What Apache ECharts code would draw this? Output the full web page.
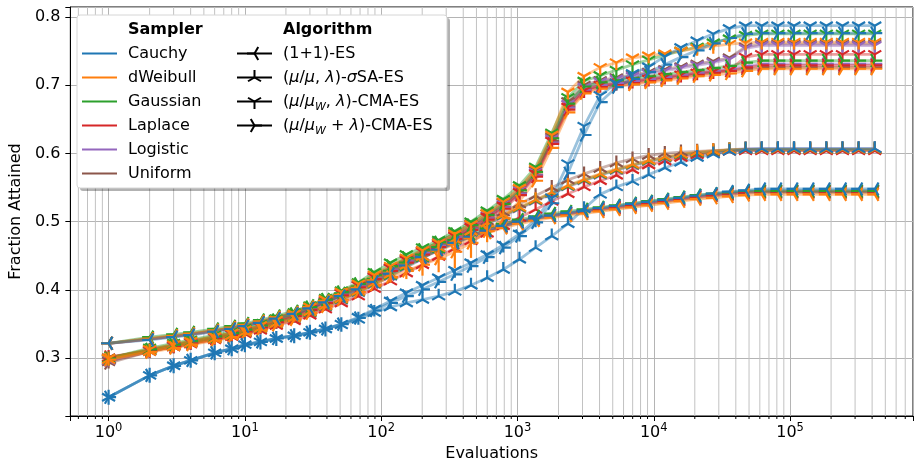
<!DOCTYPE html>
<html>
<head>
<meta charset="utf-8">
<script src="https://cdn.jsdelivr.net/npm/echarts@6/dist/echarts.min.js"></script>
<style>
  html, body { margin: 0; padding: 0; background: #fff; }
  #chart { width: 916px; height: 468px; }
</style>
</head>
<body>
<div id="chart"></div>
<script>
// evaluations at which the fraction attained was recorded
var evals = [1, 2, 3, 4, 6, 8, 10, 13, 17, 23, 30, 39, 51, 68, 89, 117, 153, 201, 264, 347, 456, 599, 787,
  1034, 1358, 1784, 2344, 3080, 4046, 5315, 6982, 9173, 12050, 15830, 20800, 27330, 35890, 47160, 61940,
  81380, 106900, 140400, 184500, 242400, 318400, 418300];

var samplers = ['Cauchy', 'dWeibull', 'Gaussian', 'Laplace', 'Logistic', 'Uniform'];
var samplerColors = ['#1f77b4', '#ff7f0e', '#2ca02c', '#d62728', '#9467bd', '#8c564b'];

var algorithms = [
  '(1+1)-ES',
  '({i|μ}/{i|μ}, {i|λ})-{i|σ}SA-ES',
  '({i|μ}/{i|μ}{s|W}, {i|λ})-CMA-ES',
  '({i|μ}/{i|μ}{s|W} + {i|λ})-CMA-ES'
];

// rows follow the samplers order
var onePlusOne = [
  [0.322,0.327,0.331,0.334,0.339,0.343,0.347,0.352,0.358,0.365,0.373,0.382,0.391,0.401,0.412,0.424,0.436,0.448,0.459,0.469,0.478,0.487,0.494,0.500,0.505,0.509,0.513,0.516,0.520,0.523,0.526,0.529,0.532,0.535,0.538,0.541,0.544,0.546,0.548,0.548,0.548,0.548,0.548,0.548,0.548,0.548],
  [0.322,0.329,0.333,0.336,0.341,0.345,0.349,0.354,0.360,0.367,0.375,0.384,0.393,0.403,0.414,0.425,0.437,0.448,0.458,0.467,0.476,0.484,0.491,0.497,0.502,0.506,0.509,0.512,0.515,0.518,0.521,0.524,0.527,0.530,0.533,0.535,0.537,0.539,0.540,0.540,0.540,0.540,0.540,0.540,0.540,0.540],
  [0.322,0.331,0.335,0.338,0.343,0.347,0.351,0.356,0.362,0.369,0.377,0.386,0.395,0.405,0.416,0.428,0.440,0.452,0.463,0.473,0.482,0.490,0.497,0.503,0.508,0.512,0.515,0.518,0.521,0.524,0.527,0.530,0.533,0.536,0.539,0.541,0.543,0.545,0.545,0.545,0.545,0.545,0.545,0.545,0.545,0.545],
  [0.322,0.328,0.332,0.335,0.340,0.344,0.348,0.353,0.359,0.366,0.374,0.383,0.392,0.402,0.413,0.425,0.437,0.449,0.460,0.470,0.479,0.487,0.494,0.500,0.505,0.509,0.512,0.515,0.518,0.521,0.524,0.527,0.530,0.533,0.536,0.539,0.541,0.543,0.544,0.544,0.544,0.544,0.544,0.544,0.544,0.544],
  [0.322,0.329,0.333,0.336,0.341,0.345,0.349,0.354,0.360,0.367,0.375,0.384,0.393,0.403,0.414,0.426,0.438,0.450,0.461,0.471,0.480,0.488,0.495,0.501,0.506,0.510,0.513,0.516,0.519,0.522,0.525,0.528,0.531,0.534,0.537,0.540,0.542,0.544,0.545,0.545,0.545,0.545,0.545,0.545,0.545,0.545],
  [0.322,0.328,0.332,0.335,0.340,0.344,0.348,0.353,0.359,0.366,0.374,0.383,0.392,0.402,0.413,0.424,0.436,0.448,0.459,0.469,0.478,0.486,0.493,0.499,0.504,0.508,0.511,0.514,0.517,0.520,0.523,0.526,0.529,0.532,0.535,0.538,0.540,0.542,0.543,0.543,0.543,0.543,0.543,0.543,0.543,0.543]
];

var sigmaSA = [
  [0.243,0.275,0.289,0.297,0.308,0.314,0.320,0.324,0.329,0.333,0.338,0.343,0.349,0.357,0.367,0.375,0.381,0.386,0.391,0.398,0.407,0.418,0.430,0.445,0.462,0.479,0.497,0.519,0.540,0.551,0.559,0.569,0.579,0.587,0.594,0.599,0.603,0.606,0.607,0.607,0.607,0.607,0.607,0.607,0.607,0.607],
  [0.298,0.310,0.317,0.322,0.328,0.333,0.338,0.344,0.351,0.359,0.368,0.377,0.387,0.398,0.410,0.423,0.436,0.449,0.462,0.474,0.486,0.498,0.510,0.521,0.532,0.543,0.553,0.562,0.570,0.577,0.584,0.590,0.595,0.599,0.602,0.604,0.605,0.606,0.606,0.606,0.606,0.606,0.606,0.606,0.606,0.606],
  [0.299,0.311,0.318,0.323,0.329,0.334,0.338,0.344,0.351,0.359,0.367,0.376,0.386,0.397,0.409,0.421,0.434,0.447,0.460,0.473,0.485,0.497,0.509,0.520,0.531,0.542,0.552,0.561,0.569,0.576,0.583,0.589,0.594,0.598,0.601,0.603,0.605,0.606,0.606,0.606,0.606,0.606,0.606,0.606,0.606,0.606],
  [0.301,0.311,0.317,0.321,0.327,0.332,0.336,0.341,0.348,0.355,0.363,0.372,0.381,0.391,0.402,0.413,0.425,0.437,0.449,0.461,0.472,0.483,0.494,0.506,0.518,0.530,0.541,0.551,0.560,0.568,0.576,0.583,0.589,0.594,0.598,0.601,0.603,0.604,0.604,0.604,0.604,0.604,0.604,0.604,0.604,0.604],
  [0.297,0.310,0.317,0.322,0.328,0.333,0.337,0.343,0.350,0.358,0.366,0.375,0.385,0.396,0.408,0.420,0.433,0.446,0.459,0.472,0.484,0.496,0.508,0.519,0.530,0.541,0.551,0.560,0.568,0.575,0.582,0.588,0.593,0.597,0.600,0.603,0.605,0.607,0.607,0.607,0.607,0.607,0.607,0.607,0.607,0.607],
  [0.295,0.310,0.317,0.322,0.328,0.333,0.338,0.344,0.351,0.359,0.368,0.377,0.387,0.398,0.410,0.423,0.436,0.449,0.462,0.475,0.488,0.501,0.514,0.526,0.538,0.550,0.561,0.570,0.578,0.586,0.592,0.597,0.600,0.602,0.603,0.604,0.605,0.605,0.605,0.605,0.605,0.605,0.605,0.605,0.605,0.605]
];

var cmaComma = [
  [0.243,0.275,0.289,0.297,0.308,0.314,0.320,0.324,0.329,0.333,0.338,0.343,0.350,0.360,0.372,0.384,0.396,0.407,0.418,0.429,0.440,0.452,0.466,0.482,0.503,0.535,0.585,0.640,0.685,0.703,0.717,0.727,0.742,0.755,0.765,0.775,0.783,0.787,0.787,0.787,0.787,0.787,0.787,0.787,0.787,0.787],
  [0.300,0.313,0.320,0.325,0.332,0.337,0.342,0.348,0.356,0.365,0.375,0.386,0.397,0.409,0.422,0.435,0.447,0.458,0.469,0.482,0.496,0.512,0.529,0.549,0.577,0.627,0.690,0.713,0.726,0.733,0.740,0.743,0.746,0.750,0.754,0.757,0.760,0.762,0.763,0.763,0.763,0.763,0.763,0.763,0.763,0.763],
  [0.300,0.315,0.322,0.327,0.334,0.339,0.344,0.350,0.358,0.367,0.377,0.388,0.399,0.411,0.426,0.440,0.452,0.462,0.473,0.486,0.500,0.516,0.533,0.553,0.580,0.630,0.682,0.706,0.714,0.722,0.730,0.737,0.744,0.750,0.756,0.762,0.768,0.773,0.775,0.775,0.775,0.775,0.775,0.775,0.775,0.775],
  [0.301,0.312,0.319,0.324,0.331,0.336,0.341,0.347,0.355,0.364,0.373,0.384,0.395,0.407,0.419,0.432,0.444,0.456,0.467,0.479,0.492,0.507,0.523,0.543,0.570,0.618,0.668,0.692,0.700,0.703,0.706,0.709,0.712,0.715,0.718,0.720,0.722,0.741,0.745,0.745,0.745,0.745,0.745,0.745,0.745,0.745],
  [0.299,0.312,0.319,0.324,0.331,0.336,0.341,0.347,0.355,0.364,0.374,0.385,0.396,0.408,0.420,0.433,0.445,0.457,0.468,0.480,0.494,0.509,0.525,0.545,0.572,0.621,0.672,0.697,0.705,0.709,0.713,0.717,0.721,0.725,0.729,0.733,0.738,0.754,0.758,0.758,0.758,0.758,0.758,0.758,0.758,0.758],
  [0.296,0.311,0.318,0.323,0.330,0.335,0.340,0.346,0.354,0.363,0.373,0.384,0.395,0.407,0.420,0.433,0.446,0.458,0.470,0.483,0.497,0.512,0.528,0.548,0.575,0.624,0.676,0.700,0.707,0.711,0.715,0.719,0.723,0.727,0.731,0.735,0.740,0.756,0.760,0.760,0.760,0.760,0.760,0.760,0.760,0.760]
];

var cmaPlus = [
  [0.243,0.275,0.289,0.297,0.308,0.314,0.320,0.324,0.329,0.333,0.338,0.343,0.350,0.359,0.370,0.381,0.391,0.401,0.412,0.423,0.435,0.448,0.462,0.479,0.499,0.527,0.571,0.627,0.675,0.697,0.709,0.719,0.730,0.741,0.751,0.761,0.769,0.775,0.776,0.776,0.776,0.776,0.776,0.776,0.776,0.776],
  [0.298,0.309,0.315,0.320,0.326,0.331,0.336,0.342,0.349,0.357,0.366,0.376,0.386,0.397,0.408,0.419,0.428,0.437,0.446,0.456,0.469,0.486,0.505,0.530,0.560,0.608,0.660,0.688,0.695,0.698,0.701,0.704,0.707,0.710,0.713,0.715,0.717,0.721,0.724,0.724,0.724,0.724,0.724,0.724,0.724,0.724],
  [0.300,0.313,0.320,0.325,0.332,0.337,0.342,0.348,0.356,0.365,0.375,0.386,0.397,0.409,0.422,0.435,0.447,0.459,0.470,0.482,0.495,0.510,0.526,0.546,0.573,0.622,0.673,0.698,0.704,0.707,0.710,0.713,0.716,0.719,0.722,0.725,0.728,0.733,0.736,0.736,0.736,0.736,0.736,0.736,0.736,0.736],
  [0.302,0.311,0.317,0.322,0.329,0.334,0.339,0.345,0.353,0.362,0.371,0.381,0.392,0.404,0.416,0.428,0.440,0.452,0.463,0.475,0.488,0.503,0.519,0.539,0.566,0.614,0.664,0.690,0.697,0.700,0.703,0.706,0.709,0.712,0.715,0.718,0.721,0.726,0.729,0.729,0.729,0.729,0.729,0.729,0.729,0.729],
  [0.297,0.310,0.317,0.322,0.329,0.334,0.339,0.345,0.353,0.362,0.372,0.382,0.393,0.405,0.417,0.430,0.442,0.454,0.465,0.477,0.490,0.505,0.521,0.541,0.568,0.616,0.667,0.693,0.700,0.703,0.706,0.709,0.712,0.715,0.718,0.721,0.724,0.728,0.731,0.731,0.731,0.731,0.731,0.731,0.731,0.731],
  [0.293,0.310,0.317,0.322,0.329,0.334,0.339,0.345,0.353,0.362,0.372,0.382,0.393,0.405,0.417,0.430,0.442,0.454,0.466,0.478,0.491,0.506,0.522,0.542,0.569,0.618,0.669,0.694,0.699,0.702,0.705,0.708,0.711,0.714,0.717,0.719,0.721,0.724,0.726,0.726,0.726,0.726,0.726,0.726,0.726,0.726]
];

// spread (half height of the error bar) of dWeibull with the plus CMA-ES, where it is visible
var dWeibullPlusEvals = [117, 153, 201, 264, 347, 456, 599];
var dWeibullPlusSpread = [0.008, 0.012, 0.016, 0.020, 0.024, 0.022, 0.016];

// minor log ticks (2..9 x 10^k) shown as grid lines
var minorTicks = [0.6, 0.7, 0.8, 0.9,
  2, 3, 4, 5, 6, 7, 8, 9,
  20, 30, 40, 50, 60, 70, 80, 90,
  200, 300, 400, 500, 600, 700, 800, 900,
  2000, 3000, 4000, 5000, 6000, 7000, 8000, 9000,
  20000, 30000, 40000, 50000, 60000, 70000, 80000, 90000,
  200000, 300000, 400000, 500000, 600000, 700000];

var algoData = [onePlusOne, sigmaSA, cmaComma, cmaPlus];

var xMin = 0.524, xMax = 7.98e5;
var yMin = 0.2155, yMax = 0.8144;
var font = 'DejaVu Sans';

// tri markers: prong directions (screen coords, y down)
var prongs = [
  [[-1, 0], [0.5, -0.866], [0.5, 0.866]],     // tri_left
  [[0, -1], [-0.866, 0.5], [0.866, 0.5]],     // tri_up
  [[0, 1], [-0.866, -0.5], [0.866, -0.5]],    // tri_down
  [[1, 0], [-0.5, -0.866], [-0.5, 0.866]]     // tri_right
];
var triSymbols = prongs.map(function (p) {
  var d = p.map(function (v) { return 'M0,0L' + v[0] + ',' + v[1]; }).join('');
  // zero-length corners keep the marker centred in its box
  return 'path://' + d + 'M-1,-1L-1,-1M1,1L1,1';
});

var series = [];

series.push({
  type: 'custom',
  coordinateSystem: 'cartesian2d',
  silent: true,
  clip: false,
  z: 1,
  animation: false,
  data: minorTicks.map(function (v) { return [v, yMin]; }),
  renderItem: function (params, api) {
    var b = api.coord([api.value(0), yMin]);
    var t = api.coord([api.value(0), yMax]);
    return {
      type: 'group',
      children: [
        { type: 'line', shape: { x1: b[0], y1: t[1], x2: b[0], y2: b[1] }, style: { stroke: '#c2c2c2', lineWidth: 1 } },
        { type: 'line', shape: { x1: b[0], y1: b[1], x2: b[0], y2: b[1] + 3 }, style: { stroke: '#000', lineWidth: 1 } }
      ]
    };
  }
});

var drawOrder = [5, 4, 3, 2, 1, 0];
drawOrder.forEach(function (si) {
  algoData.forEach(function (rows, ai) {
    series.push({
      type: 'line',
      name: samplers[si] + '-' + ai,
      data: evals.map(function (x, i) { return [x, rows[si][i]]; }),
      symbol: triSymbols[ai],
      symbolSize: 15,
      showAllSymbol: true,
      silent: true,
      z: 2,
      lineStyle: { color: samplerColors[si], width: 2.8, opacity: 0.45 },
      itemStyle: { color: 'rgba(0,0,0,0)', borderColor: samplerColors[si], borderWidth: 2.2 },
      emphasis: { disabled: true },
      animation: false
    });
  });
});

// error bars of the dWeibull plus CMA-ES
series.push({
  type: 'custom',
  coordinateSystem: 'cartesian2d',
  silent: true,
  z: 3,
  animation: false,
  data: dWeibullPlusEvals.map(function (x, i) {
    return [x, cmaPlus[1][evals.indexOf(x)], dWeibullPlusSpread[i]];
  }),
  renderItem: function (params, api) {
    var x = api.value(0), v = api.value(1), e = api.value(2);
    var lo = api.coord([x, v - e]), hi = api.coord([x, v + e]);
    return { type: 'line', shape: { x1: lo[0], y1: lo[1], x2: hi[0], y2: hi[1] }, style: { stroke: samplerColors[1], lineWidth: 2.2 } };
  }
});

// legend drawn by hand: two titled columns
var graphics = [];
var lx = 77, ly = 15, lw = 370, lh = 173;
graphics.push({ type: 'rect', z: 100, silent: true, shape: { x: lx + 3, y: ly + 3, width: lw, height: lh, r: 3 }, style: { fill: 'rgba(0,0,0,0.3)' } });
graphics.push({ type: 'rect', z: 101, silent: true, shape: { x: lx, y: ly, width: lw, height: lh, r: 3 }, style: { fill: '#fff', stroke: '#d6d6d6', lineWidth: 1 } });
graphics.push({ type: 'text', z: 102, x: 128, y: 29.5, style: { text: 'Sampler', fontFamily: font, fontSize: 16, fontWeight: 'bold', fill: '#000', verticalAlign: 'middle' } });
graphics.push({ type: 'text', z: 102, x: 283, y: 29.5, style: { text: 'Algorithm', fontFamily: font, fontSize: 16, fontWeight: 'bold', fill: '#000', verticalAlign: 'middle' } });
samplers.forEach(function (s, i) {
  var yy = 53.5 + 24 * i;
  graphics.push({ type: 'line', z: 102, shape: { x1: 82, y1: yy, x2: 117, y2: yy }, style: { stroke: samplerColors[i], lineWidth: 2 } });
  graphics.push({ type: 'text', z: 102, x: 128, y: yy, style: { text: s, fontFamily: font, fontSize: 16, fill: '#000', verticalAlign: 'middle' } });
});
algorithms.forEach(function (a, i) {
  var yy = 53.5 + 24 * i;
  var cx = 254.5;
  graphics.push({ type: 'line', z: 102, shape: { x1: 237, y1: yy, x2: 272, y2: yy }, style: { stroke: '#000', lineWidth: 2 } });
  prongs[i].forEach(function (v) {
    graphics.push({ type: 'line', z: 102, shape: { x1: cx, y1: yy, x2: cx + 7.5 * v[0], y2: yy + 7.5 * v[1] }, style: { stroke: '#000', lineWidth: 2 } });
  });
  graphics.push({
    type: 'text', z: 102, x: 283, y: yy,
    style: {
      text: a, fontFamily: font, fontSize: 16, fill: '#000', verticalAlign: 'middle', lineHeight: 22,
      rich: {
        i: { fontFamily: font, fontSize: 16, fontStyle: 'italic', lineHeight: 22 },
        s: { fontFamily: font, fontSize: 11, fontStyle: 'italic', verticalAlign: 'bottom', lineHeight: 12 }
      }
    }
  });
});

var chart = echarts.init(document.getElementById('chart'));
chart.setOption({
  animation: false,
  backgroundColor: '#fff',
  textStyle: { fontFamily: font },
  grid: { left: 67, right: -8, top: 7, bottom: 52, show: true, borderColor: '#000', borderWidth: 1, backgroundColor: 'transparent' },
  xAxis: {
    type: 'log',
    logBase: 10,
    min: xMin,
    max: xMax,
    name: 'Evaluations',
    nameLocation: 'middle',
    nameGap: 29,
    nameTextStyle: { fontSize: 16, color: '#000', fontFamily: font },
    axisLine: { show: true, lineStyle: { color: '#000', width: 1 } },
    axisTick: { show: true, length: 5, lineStyle: { color: '#000', width: 1 } },
    axisLabel: {
      color: '#000', margin: 6, fontFamily: font,
      formatter: function (v) {
        var e = Math.log10(v), k = Math.round(e);
        if (Math.abs(e - k) > 1e-6) return '';
        return '{b|10}{s|' + k + '}';
      },
      rich: {
        b: { fontSize: 16, fontFamily: font, color: '#000', lineHeight: 22 },
        s: { fontSize: 11.5, fontFamily: font, color: '#000', verticalAlign: 'top', lineHeight: 12 }
      }
    },
    splitLine: { show: true, lineStyle: { color: '#b4b4b4', width: 1 } }
  },
  yAxis: {
    type: 'value',
    min: yMin,
    max: yMax,
    splitNumber: 6,
    name: 'Fraction Attained',
    nameLocation: 'middle',
    nameGap: 37,
    nameTextStyle: { fontSize: 16, color: '#000', fontFamily: font },
    axisLine: { show: true, lineStyle: { color: '#000', width: 1 } },
    axisTick: { show: true, length: 5, lineStyle: { color: '#000', width: 1 } },
    axisLabel: {
      fontSize: 16, color: '#000', margin: 10, fontFamily: font,
      formatter: function (v) {
        if (Math.abs(v * 10 - Math.round(v * 10)) > 1e-6) return '';
        return v.toFixed(1);
      }
    },
    splitLine: { show: true, lineStyle: { color: '#b4b4b4', width: 1 } }
  },
  series: series,
  graphic: graphics
});
</script>
</body>
</html>
